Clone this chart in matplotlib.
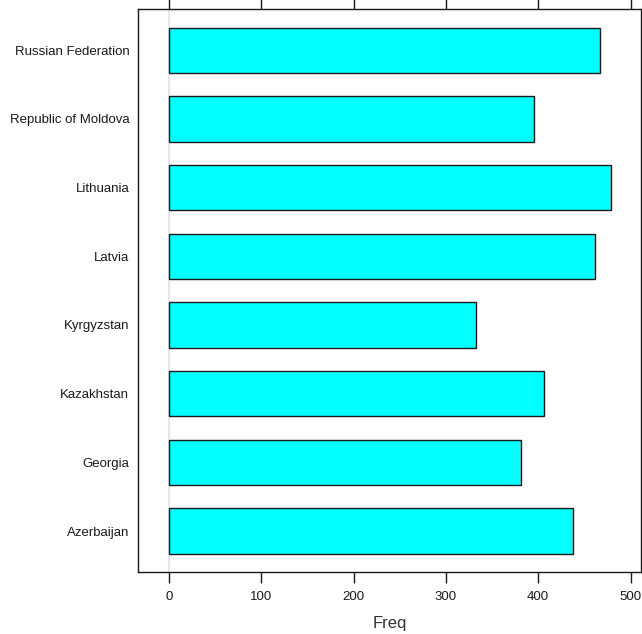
import matplotlib
matplotlib.use("Agg")
import matplotlib.pyplot as plt

countries = ["Azerbaijan", "Georgia", "Kazakhstan", "Kyrgyzstan",
             "Latvia", "Lithuania", "Republic of Moldova", "Russian Federation"]
freq = [438, 381, 406, 333, 461, 479, 395, 467]
xticks = [0, 100, 200, 300, 400, 500]

plt.rcParams['font.family'] = ['Liberation Sans', 'DejaVu Sans']

fig = plt.figure(figsize=(6.42, 6.34), dpi=100)
ax = fig.add_axes([138.3/642, 1 - 572.3/634, (640.7-138.3)/642, (572.3-9)/634])

pos = list(range(1, len(countries) + 1))
ax.axvline(0, color='#e6e6e6', lw=1.5, zorder=0)
ax.barh(pos, freq, height=0.66, color='#00ffff', edgecolor='#1a1a1a', linewidth=1.0, zorder=2)

ax.set_xlim(-33.3, 511)
ax.set_ylim(0.4, 8.6)
ax.set_yticks(pos)
ax.set_yticklabels(countries, fontsize=9.5, color='#1a1a1a')
ax.tick_params(axis='y', length=0, pad=6.5)
ax.set_xticks(xticks)
ax.set_xticklabels([str(t) for t in xticks], fontsize=9.5, color='#1a1a1a')
ax.tick_params(axis='x', which='both', top=True, bottom=True, direction='out',
               length=8, width=1, color='#1a1a1a', pad=5.5)
for s in ax.spines.values():
    s.set_color('#1a1a1a')
    s.set_linewidth(1)
ax.set_xlabel('Freq', fontsize=12, color='#333333', labelpad=9.5)

fig.savefig('out.png', dpi=100)
